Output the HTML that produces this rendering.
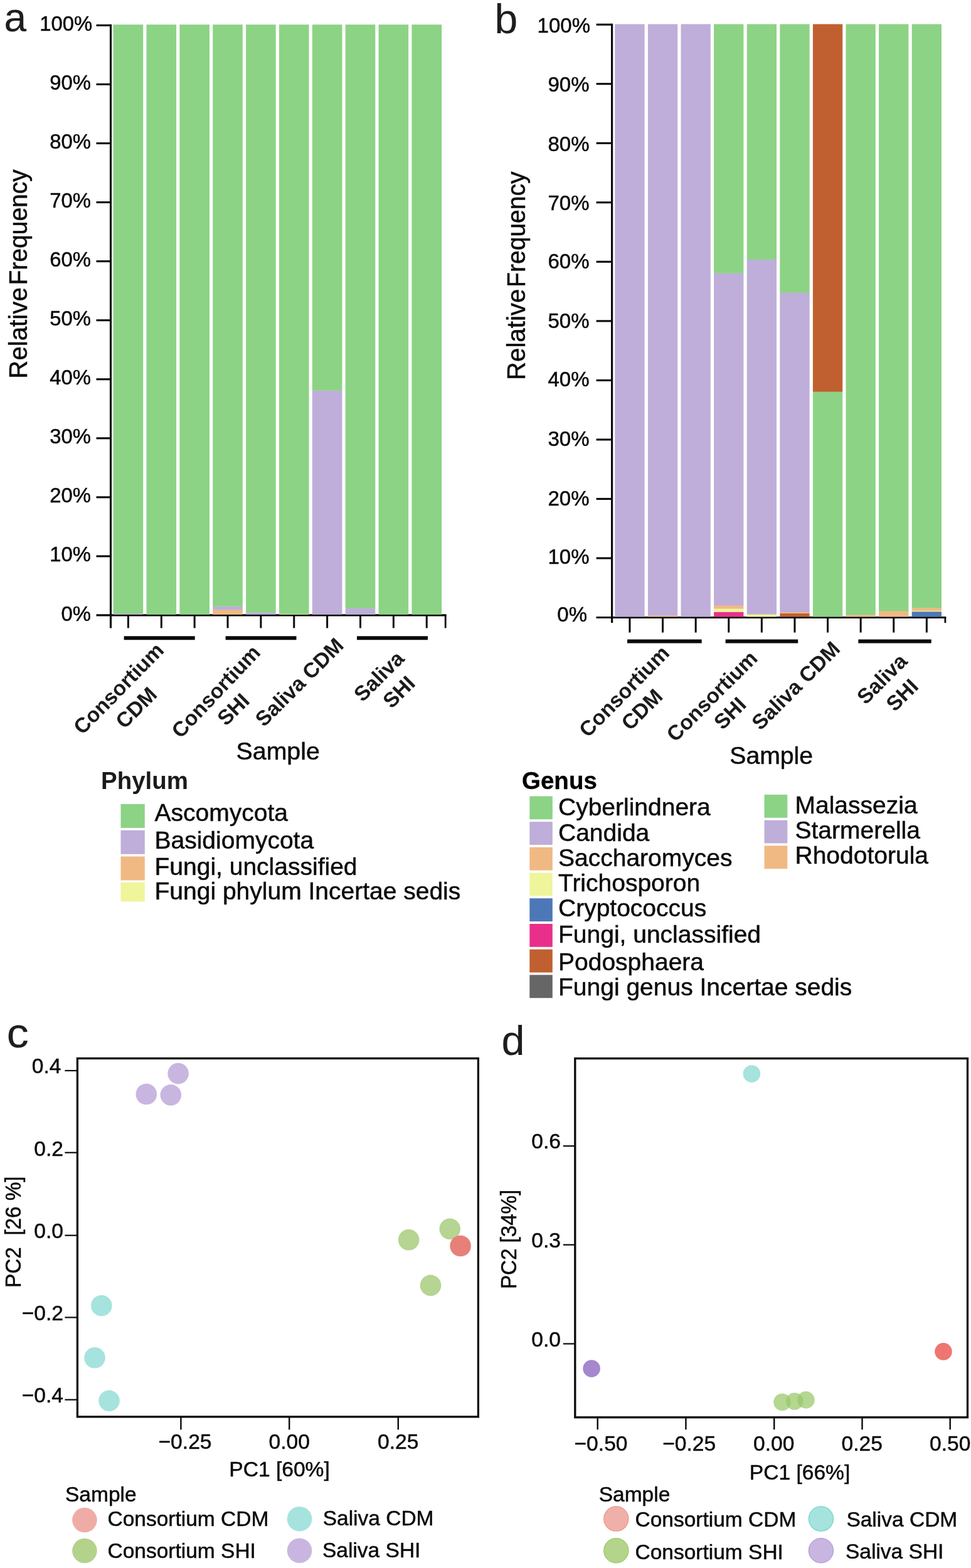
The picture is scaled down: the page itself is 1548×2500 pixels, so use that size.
<!DOCTYPE html>
<html lang="en">
<head>
<meta charset="utf-8">
<title>Fungal community composition and PCoA</title>
<style>
html,body{margin:0;padding:0;background:#fff;}
body{width:1548px;height:2500px;overflow:hidden;}
svg{display:block;}
svg text{font-family:"Liberation Sans",sans-serif;fill:#0a0a0a;stroke:#0a0a0a;stroke-width:0.5px;stroke-linejoin:round;}
svg text[font-weight="bold"]{fill:#1c1a1b;stroke:none;}
svg text.gt{fill:#000;stroke:#000;stroke-width:0.3px;}
svg text.pl{fill:#201d1e;stroke:#201d1e;stroke-width:0.15px;}
</style>
</head>
<body>
<svg width="1548" height="2500" viewBox="0 0 1548 2500">
<rect x="0" y="0" width="1548" height="2500" fill="#ffffff"/>
<g id="panel-a">
<line x1="153.50" y1="980.90" x2="711.60" y2="980.90" stroke="#0a0a0a" stroke-width="3.1"/>
<rect x="180.60" y="978.02" width="47.60" height="1.88" fill="#beaed9"/>
<rect x="180.60" y="39.20" width="47.60" height="939.12" fill="#8cd385"/>
<rect x="233.47" y="39.20" width="47.60" height="940.70" fill="#8cd385"/>
<rect x="286.34" y="39.20" width="47.60" height="940.70" fill="#8cd385"/>
<rect x="339.21" y="972.00" width="47.60" height="7.90" fill="#f0b984"/>
<rect x="339.21" y="966.54" width="47.60" height="5.76" fill="#beaed9"/>
<rect x="339.21" y="39.20" width="47.60" height="927.64" fill="#8cd385"/>
<rect x="392.08" y="976.14" width="47.60" height="3.76" fill="#beaed9"/>
<rect x="392.08" y="39.20" width="47.60" height="937.24" fill="#8cd385"/>
<rect x="444.95" y="978.77" width="47.60" height="1.13" fill="#eef59b"/>
<rect x="444.95" y="39.20" width="47.60" height="939.87" fill="#8cd385"/>
<rect x="497.82" y="622.43" width="47.60" height="357.47" fill="#beaed9"/>
<rect x="497.82" y="39.20" width="47.60" height="583.53" fill="#8cd385"/>
<rect x="550.69" y="969.55" width="47.60" height="10.35" fill="#beaed9"/>
<rect x="550.69" y="39.20" width="47.60" height="930.65" fill="#8cd385"/>
<rect x="603.56" y="39.20" width="47.60" height="940.70" fill="#8cd385"/>
<rect x="656.43" y="39.20" width="47.60" height="940.70" fill="#8cd385"/>
<line x1="176.50" y1="38.85" x2="176.50" y2="1001.40" stroke="#0a0a0a" stroke-width="3.2"/>
<text x="144.9" y="990.3" font-size="32.8" text-anchor="end">0%</text>
<line x1="153.50" y1="886.85" x2="176.50" y2="886.85" stroke="#0a0a0a" stroke-width="3.1"/>
<text x="144.9" y="894.92" font-size="32.8" text-anchor="end">10%</text>
<line x1="153.50" y1="792.80" x2="176.50" y2="792.80" stroke="#0a0a0a" stroke-width="3.1"/>
<text x="144.9" y="800.84" font-size="32.8" text-anchor="end">20%</text>
<line x1="153.50" y1="698.75" x2="176.50" y2="698.75" stroke="#0a0a0a" stroke-width="3.1"/>
<text x="144.9" y="706.76" font-size="32.8" text-anchor="end">30%</text>
<line x1="153.50" y1="604.70" x2="176.50" y2="604.70" stroke="#0a0a0a" stroke-width="3.1"/>
<text x="144.9" y="612.68" font-size="32.8" text-anchor="end">40%</text>
<line x1="153.50" y1="510.65" x2="176.50" y2="510.65" stroke="#0a0a0a" stroke-width="3.1"/>
<text x="144.9" y="519.0" font-size="32.8" text-anchor="end">50%</text>
<line x1="153.50" y1="416.60" x2="176.50" y2="416.60" stroke="#0a0a0a" stroke-width="3.1"/>
<text x="144.9" y="424.52" font-size="32.8" text-anchor="end">60%</text>
<line x1="153.50" y1="322.55" x2="176.50" y2="322.55" stroke="#0a0a0a" stroke-width="3.1"/>
<text x="144.9" y="330.94" font-size="32.8" text-anchor="end">70%</text>
<line x1="153.50" y1="228.50" x2="176.50" y2="228.50" stroke="#0a0a0a" stroke-width="3.1"/>
<text x="144.9" y="236.86" font-size="32.8" text-anchor="end">80%</text>
<line x1="153.50" y1="134.45" x2="176.50" y2="134.45" stroke="#0a0a0a" stroke-width="3.1"/>
<text x="144.9" y="142.58" font-size="32.8" text-anchor="end">90%</text>
<line x1="153.50" y1="40.40" x2="176.50" y2="40.40" stroke="#0a0a0a" stroke-width="3.1"/>
<text x="147.1" y="48.9" font-size="32.8" text-anchor="end">100%</text>
<line x1="204.40" y1="980.90" x2="204.40" y2="1001.40" stroke="#0a0a0a" stroke-width="3.0"/>
<line x1="257.27" y1="980.90" x2="257.27" y2="1001.40" stroke="#0a0a0a" stroke-width="3.0"/>
<line x1="310.14" y1="980.90" x2="310.14" y2="1001.40" stroke="#0a0a0a" stroke-width="3.0"/>
<line x1="363.01" y1="980.90" x2="363.01" y2="1001.40" stroke="#0a0a0a" stroke-width="3.0"/>
<line x1="415.88" y1="980.90" x2="415.88" y2="1001.40" stroke="#0a0a0a" stroke-width="3.0"/>
<line x1="468.75" y1="980.90" x2="468.75" y2="1001.40" stroke="#0a0a0a" stroke-width="3.0"/>
<line x1="521.62" y1="980.90" x2="521.62" y2="1001.40" stroke="#0a0a0a" stroke-width="3.0"/>
<line x1="574.49" y1="980.90" x2="574.49" y2="1001.40" stroke="#0a0a0a" stroke-width="3.0"/>
<line x1="627.36" y1="980.90" x2="627.36" y2="1001.40" stroke="#0a0a0a" stroke-width="3.0"/>
<line x1="680.23" y1="980.90" x2="680.23" y2="1001.40" stroke="#0a0a0a" stroke-width="3.0"/>
<line x1="710.20" y1="980.90" x2="710.20" y2="1001.40" stroke="#0a0a0a" stroke-width="2.8"/>
<line x1="197.60" y1="1017.20" x2="310.70" y2="1017.20" stroke="#0a0a0a" stroke-width="6"/>
<line x1="359.60" y1="1017.20" x2="472.50" y2="1017.20" stroke="#0a0a0a" stroke-width="6"/>
<line x1="569.00" y1="1017.20" x2="682.00" y2="1017.20" stroke="#0a0a0a" stroke-width="6"/>
<text x="263.1" y="1038.8" font-size="33.5" text-anchor="end" font-weight="bold" transform="rotate(-45.5 263.1 1038.8)">Consortium</text>
<text x="252.3" y="1109.5" font-size="33.5" text-anchor="end" font-weight="bold" transform="rotate(-45 252.3 1109.5)">CDM</text>
<text x="417.1" y="1042.1" font-size="33.5" text-anchor="end" font-weight="bold" transform="rotate(-46.6 417.1 1042.1)">Consortium</text>
<text x="399.8" y="1119.3" font-size="33.5" text-anchor="end" font-weight="bold" transform="rotate(-45 399.8 1119.3)">SHI</text>
<text x="549.8" y="1031.3" font-size="33.5" text-anchor="end" font-weight="bold" transform="rotate(-45 549.8 1031.3)">Saliva CDM</text>
<text x="646.5" y="1052" font-size="33.5" text-anchor="end" font-weight="bold" transform="rotate(-45 646.5 1052)">Saliva</text>
<text x="663.8" y="1091.6" font-size="33.5" text-anchor="end" font-weight="bold" transform="rotate(-45 663.8 1091.6)">SHI</text>
<text x="443.2" y="1210.9" font-size="39.3" text-anchor="middle">Sample</text>
<text transform="translate(42.9 603.7) rotate(-90)" font-size="41.5"><tspan x="0" textLength="145.5" lengthAdjust="spacingAndGlyphs">Relative</tspan> <tspan x="149.1" textLength="184.5" lengthAdjust="spacingAndGlyphs">Frequency</tspan></text>
<text x="6.5" y="50.2" font-size="64" class="pl">a</text>
</g>
<g id="panel-b">
<line x1="950.60" y1="984.50" x2="1508.30" y2="984.50" stroke="#0a0a0a" stroke-width="3.1"/>
<rect x="980.30" y="38.50" width="47.30" height="945.00" fill="#beaed9"/>
<rect x="1032.90" y="981.42" width="47.30" height="2.08" fill="#f0b984"/>
<rect x="1032.90" y="38.50" width="47.30" height="943.22" fill="#beaed9"/>
<rect x="1085.50" y="38.50" width="47.30" height="945.00" fill="#beaed9"/>
<rect x="1138.10" y="975.47" width="47.30" height="8.03" fill="#e8308a"/>
<rect x="1138.10" y="970.27" width="47.30" height="5.50" fill="#eef59b"/>
<rect x="1138.10" y="965.07" width="47.30" height="5.50" fill="#f0b984"/>
<rect x="1138.10" y="435.40" width="47.30" height="529.97" fill="#beaed9"/>
<rect x="1138.10" y="38.50" width="47.30" height="397.20" fill="#8cd385"/>
<rect x="1190.70" y="979.25" width="47.30" height="4.25" fill="#eef59b"/>
<rect x="1190.70" y="413.66" width="47.30" height="565.88" fill="#beaed9"/>
<rect x="1190.70" y="38.50" width="47.30" height="375.47" fill="#8cd385"/>
<rect x="1243.30" y="977.83" width="47.30" height="5.67" fill="#c06030"/>
<rect x="1243.30" y="975.94" width="47.30" height="2.19" fill="#f0b984"/>
<rect x="1243.30" y="466.59" width="47.30" height="509.65" fill="#beaed9"/>
<rect x="1243.30" y="38.50" width="47.30" height="428.38" fill="#8cd385"/>
<rect x="1295.90" y="624.40" width="47.30" height="359.10" fill="#8cd385"/>
<rect x="1295.90" y="38.50" width="47.30" height="586.20" fill="#c06030"/>
<rect x="1348.50" y="980.19" width="47.30" height="3.31" fill="#f0b984"/>
<rect x="1348.50" y="38.50" width="47.30" height="941.99" fill="#8cd385"/>
<rect x="1401.10" y="974.05" width="47.30" height="9.45" fill="#f0b984"/>
<rect x="1401.10" y="38.50" width="47.30" height="935.85" fill="#8cd385"/>
<rect x="1453.70" y="975.00" width="47.30" height="8.50" fill="#4d78b8"/>
<rect x="1453.70" y="973.58" width="47.30" height="1.72" fill="#eef59b"/>
<rect x="1453.70" y="968.85" width="47.30" height="5.02" fill="#f0b984"/>
<rect x="1453.70" y="38.50" width="47.30" height="930.65" fill="#8cd385"/>
<line x1="975.60" y1="37.65" x2="975.60" y2="993.00" stroke="#0a0a0a" stroke-width="3.2"/>
<text x="936.0" y="990.9" font-size="33" text-anchor="end">0%</text>
<line x1="950.60" y1="889.97" x2="975.60" y2="889.97" stroke="#0a0a0a" stroke-width="3.1"/>
<text x="939.5" y="899.26" font-size="33" text-anchor="end">10%</text>
<line x1="950.60" y1="795.44" x2="975.60" y2="795.44" stroke="#0a0a0a" stroke-width="3.1"/>
<text x="939.5" y="805.62" font-size="33" text-anchor="end">20%</text>
<line x1="950.60" y1="700.91" x2="975.60" y2="700.91" stroke="#0a0a0a" stroke-width="3.1"/>
<text x="939.5" y="710.98" font-size="33" text-anchor="end">30%</text>
<line x1="950.60" y1="606.38" x2="975.60" y2="606.38" stroke="#0a0a0a" stroke-width="3.1"/>
<text x="939.5" y="616.14" font-size="33" text-anchor="end">40%</text>
<line x1="950.60" y1="511.85" x2="975.60" y2="511.85" stroke="#0a0a0a" stroke-width="3.1"/>
<text x="939.5" y="522.5" font-size="33" text-anchor="end">50%</text>
<line x1="950.60" y1="417.32" x2="975.60" y2="417.32" stroke="#0a0a0a" stroke-width="3.1"/>
<text x="939.5" y="428.06" font-size="33" text-anchor="end">60%</text>
<line x1="950.60" y1="322.79" x2="975.60" y2="322.79" stroke="#0a0a0a" stroke-width="3.1"/>
<text x="939.5" y="334.52" font-size="33" text-anchor="end">70%</text>
<line x1="950.60" y1="228.26" x2="975.60" y2="228.26" stroke="#0a0a0a" stroke-width="3.1"/>
<text x="939.5" y="240.68" font-size="33" text-anchor="end">80%</text>
<line x1="950.60" y1="133.73" x2="975.60" y2="133.73" stroke="#0a0a0a" stroke-width="3.1"/>
<text x="939.5" y="145.74" font-size="33" text-anchor="end">90%</text>
<line x1="950.60" y1="39.20" x2="975.60" y2="39.20" stroke="#0a0a0a" stroke-width="3.1"/>
<text x="941.0" y="52.2" font-size="33" text-anchor="end">100%</text>
<line x1="1003.95" y1="984.50" x2="1003.95" y2="1008.50" stroke="#0a0a0a" stroke-width="3.0"/>
<line x1="1056.55" y1="984.50" x2="1056.55" y2="1008.50" stroke="#0a0a0a" stroke-width="3.0"/>
<line x1="1109.15" y1="984.50" x2="1109.15" y2="1008.50" stroke="#0a0a0a" stroke-width="3.0"/>
<line x1="1161.75" y1="984.50" x2="1161.75" y2="1008.50" stroke="#0a0a0a" stroke-width="3.0"/>
<line x1="1214.35" y1="984.50" x2="1214.35" y2="1008.50" stroke="#0a0a0a" stroke-width="3.0"/>
<line x1="1266.95" y1="984.50" x2="1266.95" y2="1008.50" stroke="#0a0a0a" stroke-width="3.0"/>
<line x1="1319.55" y1="984.50" x2="1319.55" y2="1008.50" stroke="#0a0a0a" stroke-width="3.0"/>
<line x1="1372.15" y1="984.50" x2="1372.15" y2="1008.50" stroke="#0a0a0a" stroke-width="3.0"/>
<line x1="1424.75" y1="984.50" x2="1424.75" y2="1008.50" stroke="#0a0a0a" stroke-width="3.0"/>
<line x1="1477.35" y1="984.50" x2="1477.35" y2="1008.50" stroke="#0a0a0a" stroke-width="3.0"/>
<line x1="1506.90" y1="984.50" x2="1506.90" y2="993.00" stroke="#0a0a0a" stroke-width="2.8"/>
<line x1="1000.00" y1="1022.40" x2="1118.70" y2="1022.40" stroke="#0a0a0a" stroke-width="6"/>
<line x1="1156.60" y1="1022.40" x2="1272.20" y2="1022.40" stroke="#0a0a0a" stroke-width="6"/>
<line x1="1368.30" y1="1022.40" x2="1484.70" y2="1022.40" stroke="#0a0a0a" stroke-width="6"/>
<text x="1069.1" y="1043.3" font-size="33.5" text-anchor="end" font-weight="bold" transform="rotate(-45.5 1069.1 1043.3)">Consortium</text>
<text x="1058.4" y="1112.4" font-size="33.5" text-anchor="end" font-weight="bold" transform="rotate(-45 1058.4 1112.4)">CDM</text>
<text x="1209.5" y="1051.6" font-size="33.5" text-anchor="end" font-weight="bold" transform="rotate(-45 1209.5 1051.6)">Consortium</text>
<text x="1191.5" y="1125.5" font-size="33.5" text-anchor="end" font-weight="bold" transform="rotate(-45 1191.5 1125.5)">SHI</text>
<text x="1341.3" y="1036.8" font-size="33.5" text-anchor="end" font-weight="bold" transform="rotate(-45 1341.3 1036.8)">Saliva CDM</text>
<text x="1448.4" y="1056.2" font-size="33.5" text-anchor="end" font-weight="bold" transform="rotate(-45 1448.4 1056.2)">Saliva</text>
<text x="1466" y="1096.5" font-size="33.5" text-anchor="end" font-weight="bold" transform="rotate(-45 1466 1096.5)">SHI</text>
<text x="1229.7" y="1217.5" font-size="39.2" text-anchor="middle">Sample</text>
<text transform="translate(836.5 606.1) rotate(-90)" font-size="41.5"><tspan x="0" textLength="145.5" lengthAdjust="spacingAndGlyphs">Relative</tspan> <tspan x="148.2" textLength="184.5" lengthAdjust="spacingAndGlyphs">Frequency</tspan></text>
<text x="788.5" y="53" font-size="66" class="pl">b</text>
</g>
<g id="legend-a">
<text x="161" y="1258.3" font-size="38.5" font-weight="bold">Phylum</text>
<rect x="192.50" y="1282.00" width="38.30" height="38.00" fill="#8cd385"/>
<text x="246.5" y="1309.2" font-size="39">Ascomycota</text>
<rect x="192.50" y="1323.80" width="38.30" height="38.00" fill="#beaed9"/>
<text x="246.5" y="1353.3" font-size="39">Basidiomycota</text>
<rect x="192.50" y="1365.50" width="38.30" height="38.00" fill="#f0b984"/>
<text x="246.5" y="1395" font-size="39">Fungi, unclassified</text>
<rect x="192.50" y="1407.00" width="38.30" height="30.50" fill="#eef59b"/>
<text x="246.5" y="1434.2" font-size="39">Fungi phylum Incertae sedis</text>
</g>
<g id="legend-b">
<text x="832" y="1258.4" font-size="38.5" font-weight="bold" class="gt">Genus</text>
<rect x="844.30" y="1269.50" width="36.50" height="36.80" fill="#8cd385"/>
<text x="890" y="1299.7" font-size="39">Cyberlindnera</text>
<rect x="844.30" y="1310.20" width="36.50" height="36.80" fill="#beaed9"/>
<text x="890" y="1341" font-size="39">Candida</text>
<rect x="844.30" y="1350.90" width="36.50" height="36.80" fill="#f0b984"/>
<text x="890" y="1380.6" font-size="39">Saccharomyces</text>
<rect x="844.30" y="1391.60" width="36.50" height="36.80" fill="#eef59b"/>
<text x="890" y="1421.4" font-size="39">Trichosporon</text>
<rect x="844.30" y="1432.30" width="36.50" height="36.80" fill="#4d78b8"/>
<text x="890" y="1461.2" font-size="39">Cryptococcus</text>
<rect x="844.30" y="1473.00" width="36.50" height="36.80" fill="#e8308a"/>
<text x="890" y="1503.2" font-size="39">Fungi, unclassified</text>
<rect x="844.30" y="1513.70" width="36.50" height="36.80" fill="#c06030"/>
<text x="890" y="1546.6" font-size="39">Podosphaera</text>
<rect x="844.30" y="1554.40" width="36.50" height="36.80" fill="#666666"/>
<text x="890" y="1586.5" font-size="39">Fungi genus Incertae sedis</text>
<rect x="1218.50" y="1267.00" width="36.80" height="36.80" fill="#8cd385"/>
<text x="1267.5" y="1296.5" font-size="39">Malassezia</text>
<rect x="1218.50" y="1307.70" width="36.80" height="36.80" fill="#beaed9"/>
<text x="1267.5" y="1337" font-size="39">Starmerella</text>
<rect x="1218.50" y="1348.40" width="36.80" height="36.80" fill="#f0b984"/>
<text x="1267.5" y="1377.1" font-size="39">Rhodotorula</text>
</g>
<g id="panel-c">
<rect x="123.4" y="1687.5" width="639.00" height="571.40" fill="#fff" stroke="#0a0a0a" stroke-width="3.3"/>
<circle cx="233.3" cy="1744.5" r="16.8" fill="#c9b6e0"/>
<circle cx="272.3" cy="1745.9" r="16.8" fill="#c9b6e0"/>
<circle cx="284.1" cy="1711.6" r="16.8" fill="#c9b6e0"/>
<circle cx="651.6" cy="1976.8" r="16.8" fill="#b6d492"/>
<circle cx="717.2" cy="1959.4" r="16.8" fill="#b6d492"/>
<circle cx="686.5" cy="2049.4" r="16.8" fill="#b6d492"/>
<circle cx="734.1" cy="1986.5" r="16.8" fill="#e8807a"/>
<circle cx="161.8" cy="2081.7" r="16.8" fill="#a6e3de"/>
<circle cx="151" cy="2164.8" r="16.8" fill="#a6e3de"/>
<circle cx="174" cy="2233.4" r="16.8" fill="#a6e3de"/>
<line x1="103.40" y1="1707.00" x2="123.40" y2="1707.00" stroke="#0a0a0a" stroke-width="2.2"/>
<text x="97.5" y="1711.3" font-size="33.6" text-anchor="end">0.4</text>
<line x1="103.40" y1="1837.70" x2="123.40" y2="1837.70" stroke="#0a0a0a" stroke-width="2.2"/>
<text x="101" y="1843" font-size="33.6" text-anchor="end">0.2</text>
<line x1="103.40" y1="1969.70" x2="123.40" y2="1969.70" stroke="#0a0a0a" stroke-width="2.2"/>
<text x="101" y="1974.1" font-size="33.6" text-anchor="end">0.0</text>
<line x1="103.40" y1="2100.50" x2="123.40" y2="2100.50" stroke="#0a0a0a" stroke-width="2.2"/>
<text x="101" y="2105" font-size="33.6" text-anchor="end">−0.2</text>
<line x1="103.40" y1="2231.70" x2="123.40" y2="2231.70" stroke="#0a0a0a" stroke-width="2.2"/>
<text x="101" y="2236.2" font-size="33.6" text-anchor="end">−0.4</text>
<line x1="288.40" y1="2258.90" x2="288.40" y2="2279.40" stroke="#0a0a0a" stroke-width="2.4"/>
<text x="295" y="2309.9" font-size="33.6" text-anchor="middle">−0.25</text>
<line x1="461.20" y1="2258.90" x2="461.20" y2="2279.40" stroke="#0a0a0a" stroke-width="2.4"/>
<text x="461.2" y="2309.9" font-size="33.6" text-anchor="middle">0.00</text>
<line x1="634.80" y1="2258.90" x2="634.80" y2="2279.40" stroke="#0a0a0a" stroke-width="2.4"/>
<text x="634.8" y="2309.9" font-size="33.6" text-anchor="middle">0.25</text>
<text x="445.5" y="2354" font-size="33.6" text-anchor="middle">PC1 [60%]</text>
<text x="33" y="2053" font-size="34.8" transform="rotate(-90 33 2053)" textLength="177.5" lengthAdjust="spacingAndGlyphs" xml:space="preserve">PC2  [26 %]</text>
<text x="10.7" y="1670.3" font-size="66.5" textLength="35" lengthAdjust="spacingAndGlyphs" class="pl">c</text>
<text x="104" y="2394.4" font-size="33.5">Sample</text>
<circle cx="134.9" cy="2423.5" r="19.8" fill="#efaca6"/>
<text x="171.5" y="2432.8" font-size="33.5">Consortium CDM</text>
<circle cx="134.9" cy="2472.5" r="19.8" fill="#b3d28c"/>
<text x="171.5" y="2484.4" font-size="33.5">Consortium SHI</text>
<circle cx="477.5" cy="2421.8" r="19.8" fill="#a6e3de"/>
<text x="514.7" y="2432" font-size="33.5">Saliva CDM</text>
<circle cx="477.5" cy="2472.3" r="19.8" fill="#c9b6e0"/>
<text x="514" y="2482.5" font-size="33.5">Saliva SHI</text>
</g>
<g id="panel-d">
<rect x="916.8" y="1687.6" width="625.70" height="572.20" fill="#fff" stroke="#0a0a0a" stroke-width="3.3"/>
<circle cx="1198.4" cy="1712.1" r="13.8" fill="#a6e3de"/>
<circle cx="943.1" cy="2182.1" r="13.8" fill="#a587cd"/>
<circle cx="1504" cy="2154.9" r="13.8" fill="#ed7671"/>
<circle cx="1247" cy="2235.5" r="13.8" fill="#98c768" fill-opacity="0.72"/>
<circle cx="1266.7" cy="2234.2" r="13.8" fill="#98c768" fill-opacity="0.72"/>
<circle cx="1284.9" cy="2232" r="13.8" fill="#98c768" fill-opacity="0.72"/>
<line x1="897.80" y1="1827.20" x2="916.80" y2="1827.20" stroke="#0a0a0a" stroke-width="2.2"/>
<text x="894" y="1831" font-size="33.6" text-anchor="end">0.6</text>
<line x1="897.80" y1="1984.70" x2="916.80" y2="1984.70" stroke="#0a0a0a" stroke-width="2.2"/>
<text x="894" y="1988.7" font-size="33.6" text-anchor="end">0.3</text>
<line x1="897.80" y1="2142.50" x2="916.80" y2="2142.50" stroke="#0a0a0a" stroke-width="2.2"/>
<text x="894" y="2147" font-size="33.6" text-anchor="end">0.0</text>
<line x1="952.70" y1="2259.80" x2="952.70" y2="2279.30" stroke="#0a0a0a" stroke-width="2.4"/>
<text x="958" y="2312.6000000000004" font-size="33.6" text-anchor="middle">−0.50</text>
<line x1="1093.40" y1="2259.80" x2="1093.40" y2="2279.30" stroke="#0a0a0a" stroke-width="2.4"/>
<text x="1098.7" y="2312.6000000000004" font-size="33.6" text-anchor="middle">−0.25</text>
<line x1="1234.20" y1="2259.80" x2="1234.20" y2="2279.30" stroke="#0a0a0a" stroke-width="2.4"/>
<text x="1233.7" y="2312.6000000000004" font-size="33.6" text-anchor="middle">0.00</text>
<line x1="1374.50" y1="2259.80" x2="1374.50" y2="2279.30" stroke="#0a0a0a" stroke-width="2.4"/>
<text x="1374.3" y="2312.6000000000004" font-size="33.6" text-anchor="middle">0.25</text>
<line x1="1514.70" y1="2259.80" x2="1514.70" y2="2279.30" stroke="#0a0a0a" stroke-width="2.4"/>
<text x="1514.7" y="2312.6000000000004" font-size="33.6" text-anchor="middle">0.50</text>
<text x="1275" y="2359" font-size="33.6" text-anchor="middle">PC1 [66%]</text>
<text x="823" y="2055.1" font-size="35.3" transform="rotate(-90 823 2055.1)" textLength="158.3" lengthAdjust="spacingAndGlyphs" xml:space="preserve">PC2 [34%]</text>
<text x="799.6" y="1682.2" font-size="66.5" class="pl">d</text>
<text x="954.7" y="2394" font-size="33.5">Sample</text>
<circle cx="982.3" cy="2421.6" r="19.5" fill="#f0b0aa" stroke="#ee9a93" stroke-width="1.5"/>
<text x="1012.5" y="2433.8" font-size="33.5">Consortium CDM</text>
<circle cx="982.3" cy="2472.3" r="19.5" fill="#b4d48c" stroke="#9ccc6c" stroke-width="1.5"/>
<text x="1012.5" y="2485.6" font-size="33.5">Consortium SHI</text>
<circle cx="1308.9" cy="2421.6" r="19.5" fill="#a6e3de" stroke="#7fd8d0" stroke-width="1.5"/>
<text x="1349.4" y="2433.8" font-size="33.5">Saliva CDM</text>
<circle cx="1308.9" cy="2472.3" r="19.5" fill="#c9b6e0" stroke="#b9a0dd" stroke-width="1.5"/>
<text x="1348" y="2484.7" font-size="33.5">Saliva SHI</text>
</g>
</svg>
</body>
</html>
